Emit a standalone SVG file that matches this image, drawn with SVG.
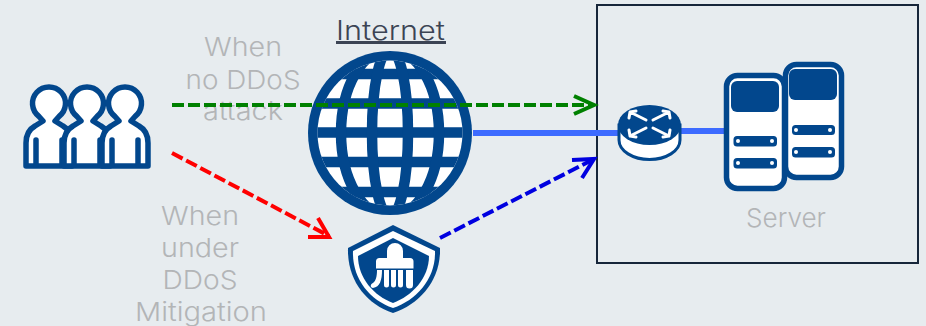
<svg xmlns="http://www.w3.org/2000/svg" xmlns:xlink="http://www.w3.org/1999/xlink" width="926" height="326" viewBox="0 0 926 326">
<style>
.lbl{font-family:"Inter","Open Sans","Liberation Sans",sans-serif;font-weight:300;font-size:26px;fill:#b3b5b7;text-anchor:middle}
.nv{fill:#02478d}
.ol{fill:#fff;stroke:#02478d;stroke-width:5.5;stroke-linejoin:round;stroke-linecap:round}
.mer{fill:none;stroke:#02478d;stroke-width:10.5}
.dash{fill:none;stroke-width:4;stroke-dasharray:12 4}
.head{fill:none;stroke-width:4}
.sl{fill:#02478d}
.hole{fill:#fff}
.wa{fill:none;stroke:#fff;stroke-width:3;stroke-linecap:round;stroke-linejoin:round}
.bw{fill:#fff}
</style>
<defs>
<clipPath id="gc"><circle cx="390" cy="133" r="72.500"/></clipPath>
<path id="person" d="M-23 166V143Q-23 131-14 126L-6 121L-10 116.500A16.500 16.500 0 1 1 10 116.500L6 121L14 126Q23 131 23 143V166Z"/>
</defs>
<rect width="926" height="326" fill="#e7ecef"/>
<g id="labels">
<text class="lbl" x="243" y="56" textLength="78" lengthAdjust="spacingAndGlyphs">When</text>
<text class="lbl" x="243" y="89" textLength="115" lengthAdjust="spacingAndGlyphs">no DDoS</text>
<text class="lbl" x="243" y="120" textLength="80" lengthAdjust="spacingAndGlyphs">attack</text>
<text class="lbl" x="200" y="225" textLength="78" lengthAdjust="spacingAndGlyphs">When</text>
<text class="lbl" x="200" y="257" textLength="78" lengthAdjust="spacingAndGlyphs">under</text>
<text class="lbl" x="200" y="289" textLength="75" lengthAdjust="spacingAndGlyphs">DDoS</text>
<text class="lbl" x="201" y="321" textLength="132" lengthAdjust="spacingAndGlyphs">Mitigation</text>
</g>
<g id="server-box"><rect x="597" y="5" width="321" height="258" fill="none" stroke="#17263a" stroke-width="2"/>
<text class="lbl" x="786" y="227" textLength="80" lengthAdjust="spacingAndGlyphs">Server</text></g>
<g id="connectors">
<path d="M473 133H620" fill="none" stroke="#3d6bff" stroke-width="6"/>
<path d="M680 131H726" fill="none" stroke="#3d6bff" stroke-width="6"/>
</g>
<g id="users">
<g transform="translate(49 0)"><use xlink:href="#person" class="ol"/><path d="M-13 140V165M13 140V165" class="ol"/></g>
<g transform="translate(87 0)"><use xlink:href="#person" class="ol"/><path d="M-13 140V165M13 140V165" class="ol"/></g>
<g transform="translate(125 0)"><use xlink:href="#person" class="ol"/><path d="M-13 140V165M13 140V165" class="ol"/></g>
</g>
<g id="internet">
<text x="390.500" y="40" text-anchor="middle" font-family="Inter,'Open Sans','Liberation Sans',sans-serif" font-weight="300" font-size="27" fill="#3c4454" textLength="109" lengthAdjust="spacingAndGlyphs">Internet</text>
<rect x="336" y="41" width="110" height="3" fill="#3c4454"/>
<circle cx="390" cy="133" r="82" class="nv"/>
<circle cx="390" cy="133" r="72.500" fill="#fff"/>
<g clip-path="url(#gc)">
<path d="M310 74H470M310 103.500H470M310 132.500H470M310 162H470M310 192H470" fill="none" stroke="#02478d" stroke-width="10.500"/>
<ellipse cx="390" cy="133" rx="18" ry="84" class="mer"/>
<ellipse cx="390" cy="133" rx="49" ry="84" class="mer"/>
</g>
</g>
<g id="mitigation">
<path d="M393 225L440 248C441 280 420 304 393 313C366 304 347 280 348 248Z" class="nv"/>
<path d="M393 231L435 251C436 278 417 300 393 308C369 300 352 278 353 251Z" fill="#fff"/>
<path d="M393 238L429 256C429 278 412 296 393 303C374 296 358 278 358 256Z" class="nv"/>
<path d="M387 258V251A8 8 0 0 1 403 251V258H410A3.500 3.500 0 0 1 413.500 261.500V268.500H376V261.500A3.500 3.500 0 0 1 379.500 258Z" class="bw"/>
<path d="M377 270H382C382 280 380 287 373 288C370 288 370 284 373 283C376 281 377 276 377 270ZM384 270H389V285A2.500 2.500 0 0 1 384 285ZM391 270H396V285A2.500 2.500 0 0 1 391 285ZM398 270H403V285A2.500 2.500 0 0 1 398 285ZM406 270H413V285A3.500 3.500 0 0 1 406 285Z" class="bw"/>
</g>
<g id="router">
<path d="M619 125V140C619 151 633 159.500 649.500 159.500C666 159.500 680 151 680 140V125Z" fill="#fff" stroke="#02478d" stroke-width="3"/>
<ellipse cx="649.500" cy="125" rx="31.500" ry="20" class="nv"/>
<path d="M646 120L630 112M629 118L630 112L636 111M653 120L669 112M670 118L669 112L663 111M646 128L630 136M636 137L630 136L629 130M653 128L669 136M663 137L669 136L670 130" class="wa"/>
</g>
<g id="server">
<rect x="785.500" y="64.500" width="56" height="113" rx="11" class="ol"/>
<rect x="789" y="69" width="48" height="31" rx="6" class="sl"/>
<rect x="792" y="125" width="43" height="10" rx="3.500" class="sl"/>
<rect x="792" y="147" width="43" height="10.500" rx="3.500" class="sl"/>
<circle cx="796" cy="130" r="2" class="hole"/><circle cx="830" cy="130" r="2" class="hole"/>
<circle cx="796" cy="152" r="2" class="hole"/><circle cx="830" cy="152" r="2" class="hole"/>
<rect x="726.500" y="75.500" width="58" height="113" rx="11" class="ol"/>
<rect x="731" y="81" width="48" height="31" rx="6" class="sl"/>
<rect x="733.500" y="136" width="43.500" height="10.500" rx="3.500" class="sl"/>
<rect x="733.500" y="158" width="43.500" height="10.500" rx="3.500" class="sl"/>
<circle cx="738" cy="141" r="2" class="hole"/><circle cx="772" cy="141" r="2" class="hole"/>
<circle cx="738" cy="163" r="2" class="hole"/><circle cx="772" cy="163" r="2" class="hole"/>
</g>
<g id="flows">
<path d="M172 105H594" class="dash" stroke="#008000"/>
<path d="M574 96L594 105L574 114" class="head" stroke="#008000"/>
<path d="M172 153L329 236" class="dash" stroke="#ff0000"/>
<path d="M308 237L329 237L318 218" class="head" stroke="#ff0000"/>
<path d="M440 238L594 159" class="dash" stroke="#0000e0"/>
<path d="M572 160L594 159L582 178" class="head" stroke="#0000e0"/>
</g>
</svg>
